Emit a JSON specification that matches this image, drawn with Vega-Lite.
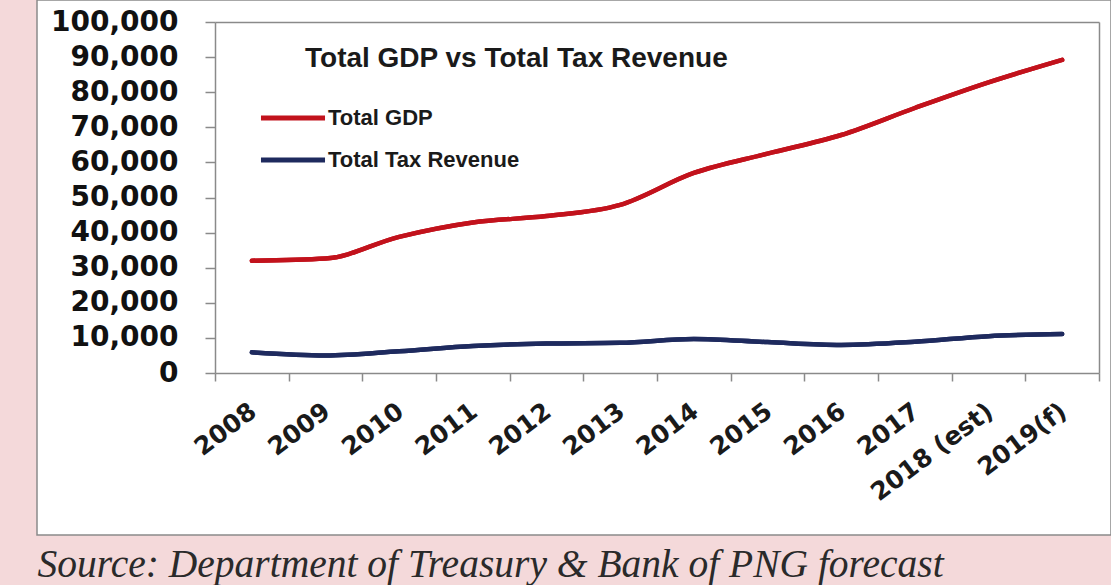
{
  "$schema": "https://vega.github.io/schema/vega-lite/v6.json",
  "width": 1074,
  "height": 535,
  "padding": {"left": 37, "top": 0, "right": 0, "bottom": 50},
  "autosize": {"type": "none"},
  "background": "#f4d9da",
  "config": {
    "view": {"fill": "white", "stroke": "#8a8a8a", "strokeWidth": 1.5},
    "axis": {"grid": false}
  },
  "title": {
    "text": "Total GDP vs Total Tax Revenue",
    "anchor": "start",
    "frame": "group",
    "font": "Liberation Sans",
    "fontSize": 28,
    "fontWeight": "bold",
    "color": "#1a1a1a",
    "baseline": "alphabetic",
    "offset": 0,
    "dx": 268,
    "dy": 95
  },
  "data": {
    "values": [
      {"year": "2008", "series": "Total GDP", "value": 32000},
      {"year": "2009", "series": "Total GDP", "value": 32600},
      {"year": "2010", "series": "Total GDP", "value": 38800},
      {"year": "2011", "series": "Total GDP", "value": 42900},
      {"year": "2012", "series": "Total GDP", "value": 44700},
      {"year": "2013", "series": "Total GDP", "value": 47900},
      {"year": "2014", "series": "Total GDP", "value": 57000},
      {"year": "2015", "series": "Total GDP", "value": 62500},
      {"year": "2016", "series": "Total GDP", "value": 67800},
      {"year": "2017", "series": "Total GDP", "value": 75500},
      {"year": "2018 (est)", "series": "Total GDP", "value": 82800},
      {"year": "2019(f)", "series": "Total GDP", "value": 89200},
      {"year": "2008", "series": "Total Tax Revenue", "value": 5900},
      {"year": "2009", "series": "Total Tax Revenue", "value": 5000},
      {"year": "2010", "series": "Total Tax Revenue", "value": 6200},
      {"year": "2011", "series": "Total Tax Revenue", "value": 7700},
      {"year": "2012", "series": "Total Tax Revenue", "value": 8400},
      {"year": "2013", "series": "Total Tax Revenue", "value": 8600},
      {"year": "2014", "series": "Total Tax Revenue", "value": 9700},
      {"year": "2015", "series": "Total Tax Revenue", "value": 8800},
      {"year": "2016", "series": "Total Tax Revenue", "value": 8000},
      {"year": "2017", "series": "Total Tax Revenue", "value": 8900},
      {"year": "2018 (est)", "series": "Total Tax Revenue", "value": 10500},
      {"year": "2019(f)", "series": "Total Tax Revenue", "value": 11100}
    ]
  },
  "resolve": {"axis": {"x": "independent", "y": "independent"}},
  "layer": [
    {
      "mark": {"type": "line", "interpolate": "monotone", "strokeWidth": 4.5, "strokeCap": "round"},
      "encoding": {
        "x": {
          "field": "year", "type": "nominal", "sort": null, "bandPosition": 0.5,
          "scale": {"type": "band", "range": [178, 1062], "paddingInner": 0, "paddingOuter": 0},
          "axis": {
            "orient": "bottom", "offset": -162, "title": "Source: Department of Treasury & Bank of PNG forecast",
            "titleFont": "Liberation Serif", "titleFontStyle": "italic", "titleFontWeight": "normal",
            "titleFontSize": 39.5, "titleColor": "#2a2a2a",
            "titleX": 0, "titleY": 203, "titleAlign": "left", "titleAnchor": "start", "titleBaseline": "alphabetic", "titleAngle": 0,
            "domainColor": "#8a8a8a", "domainWidth": 1.5,
            "tickBand": "extent", "tickColor": "#8a8a8a", "tickSize": 8, "tickWidth": 1.5,
            "labelAngle": -37, "labelAlign": "right", "labelBaseline": "middle", "labelPadding": 27,
            "labelFont": "DejaVu Sans", "labelFontWeight": "bold", "labelFontSize": 25, "labelColor": "#1a1a1a",
            "labelOffset": 1, "labelOverlap": false, "labelLimit": 300
          }
        },
        "y": {
          "field": "value", "type": "quantitative",
          "scale": {"domain": [0, 100000], "range": [373, 22], "nice": false, "zero": true},
          "axis": {
            "orient": "left", "offset": -178, "title": null,
            "values": [0,10000,20000,30000,40000,50000,60000,70000,80000,90000,100000],
            "labelExpr": "format(datum.value, ',')", "labelOverlap": false,
            "domainColor": "#8a8a8a", "domainWidth": 1.5,
            "tickColor": "#8a8a8a", "tickSize": 10, "tickWidth": 1.5, "labelPadding": 27,
            "labelFont": "DejaVu Sans", "labelFontWeight": "bold", "labelFontSize": 28, "labelColor": "#111111"
          }
        },
        "color": {
          "field": "series", "type": "nominal",
          "scale": {"domain": ["Total GDP", "Total Tax Revenue"], "range": ["#c2121c", "#1e2a5e"]},
          "legend": {
            "title": null, "orient": "none", "legendX": 221, "legendY": 98,
            "symbolType": "stroke", "symbolSize": 4100, "symbolStrokeWidth": 5, "symbolOffset": 0,
            "clipHeight": 40, "rowPadding": 2,
            "labelFont": "Liberation Sans", "labelFontWeight": "bold", "labelFontSize": 22, "labelColor": "#1a1a1a",
            "labelOffset": 0, "labelLimit": 400
          }
        }
      }
    },
    {
      "mark": {"type": "line", "interpolate": "monotone", "strokeWidth": 4.5, "strokeCap": "round"},
      "encoding": {
        "x": {
          "field": "year", "type": "nominal", "sort": null, "bandPosition": 0.5,
          "axis": {"orient": "top", "offset": -22, "title": null, "labels": false, "ticks": false, "domainColor": "#8a8a8a", "domainWidth": 1.5}
        },
        "y": {
          "field": "value", "type": "quantitative",
          "axis": {"orient": "right", "offset": -12, "title": null, "labels": false, "ticks": false, "domainColor": "#8a8a8a", "domainWidth": 1.5}
        },
        "color": {"field": "series", "type": "nominal"}
      }
    }
  ]
}
